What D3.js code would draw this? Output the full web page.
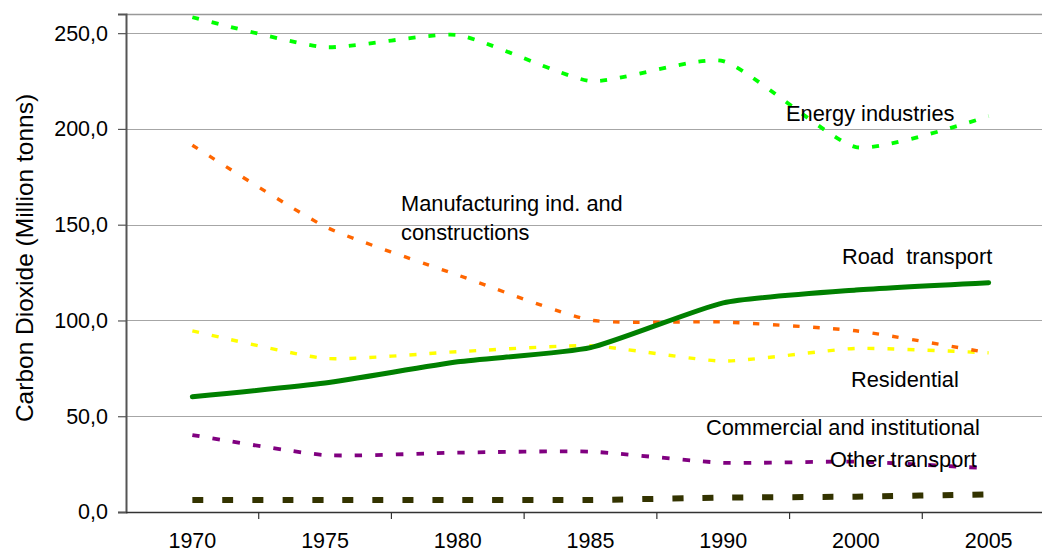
<!DOCTYPE html>
<html>
<head>
<meta charset="utf-8">
<script src="https://cdn.jsdelivr.net/npm/d3@7"></script>
<style>
  html, body { margin: 0; padding: 0; background: #fff; }
  svg { display: block; font-family: "Liberation Sans", Arial, sans-serif; }
</style>
</head>
<body>
<svg id="chart" width="1042" height="552"></svg>
<script>
// ---- Data ----
const years = ["1970", "1975", "1980", "1985", "1990", "2000", "2005"];
const energyIndustries = [258.3, 242.7, 249.0, 225.0, 235.4, 190.5, 206.7];
const manufacturing   = [191.5, 149.0, 123.7, 100.2, 99.2, 94.6, 83.1];
const roadTransport   = [60.2, 67.3, 78.4, 85.8, 109.2, 115.9, 119.7];
const residential     = [94.6, 80.2, 83.7, 86.8, 78.8, 85.4, 83.1];
const commercial      = [40.2, 29.7, 31.0, 31.5, 25.7, 26.3, 22.8];
const otherTransport  = [6.3, 6.3, 6.3, 6.3, 7.5, 8.0, 9.2];
const yTicks = [0, 50, 100, 150, 200, 250];

const series = [
  { name: "Other transport", values: otherTransport, color: "#333300", width: 6, dash: "11,19" },
  { name: "Commercial and institutional", values: commercial, color: "#800080", width: 3.8, dash: "7.5,13" },
  { name: "Residential", values: residential, color: "#FFFF00", width: 3.4, dash: "7,13" },
  { name: "Manufacturing ind. and constructions", values: manufacturing, color: "#FF6600", width: 3.4, dash: "6.5,13.5" },
  { name: "Energy industries", values: energyIndustries, color: "#00FF00", width: 3.8, dash: "7,13" },
  { name: "Road transport", values: roadTransport, color: "#008000", width: 5, dash: null }
];

const labels = [
  { lines: ["Energy industries"], x: 786, y: 121 },
  { lines: ["Manufacturing ind. and", "constructions"], x: 401, y: 211 },
  { lines: ["Road\u00A0\u00A0transport"], x: 842, y: 264 },
  { lines: ["Residential"], x: 851, y: 387 },
  { lines: ["Commercial and institutional"], x: 706, y: 435 },
  { lines: ["Other transport"], x: 830, y: 467 }
];

// ---- Layout ----
const svg = d3.select("#chart");
const mLeft = 126, mRight = 1055, mTop = 14, mBottom = 512;

const x = d3.scaleBand().domain(years).range([mLeft, mRight]).paddingInner(0).paddingOuter(0);
const y = d3.scaleLinear().domain([0, 260]).range([mBottom, mTop]);
const cx = d => x(d) + x.bandwidth() / 2;

// top border
svg.append("line").attr("x1", mLeft).attr("x2", 1042).attr("y1", mTop + 0.5).attr("y2", mTop + 0.5)
  .attr("stroke", "#999").attr("stroke-width", 1.6);

// gridlines
svg.append("g").selectAll("line").data(yTicks.filter(t => t > 0)).join("line")
  .attr("x1", mLeft).attr("x2", 1042)
  .attr("y1", d => Math.round(y(d)) + 0.5).attr("y2", d => Math.round(y(d)) + 0.5)
  .attr("stroke", "#a6a6a6").attr("stroke-width", 1);

// y axis
const yAxis = d3.axisLeft(y).tickValues(yTicks).tickSize(8).tickPadding(10)
  .tickFormat(d => d3.format(".1f")(d).replace(".", ","));
const gy = svg.append("g").attr("transform", `translate(${mLeft},0)`).call(yAxis);
gy.select(".domain").attr("stroke", "#555").attr("stroke-width", 2);
gy.selectAll(".tick line").attr("stroke", "#555").attr("stroke-width", 1.2);
gy.selectAll(".tick text").attr("font-size", "21.5px").attr("fill", "#000")
  .attr("font-family", "Liberation Sans, Arial, sans-serif");

// x axis: ticks between categories
const boundaries = years.map(d => x(d)).slice(1);
svg.append("line").attr("x1", mLeft).attr("x2", 1042).attr("y1", mBottom + 0.5).attr("y2", mBottom + 0.5)
  .attr("stroke", "#333").attr("stroke-width", 1.6);
svg.append("g").selectAll("line").data(boundaries).join("line")
  .attr("x1", d => d).attr("x2", d => d).attr("y1", mBottom).attr("y2", mBottom + 7)
  .attr("stroke", "#333").attr("stroke-width", 1.2);
svg.append("g").selectAll("text").data(years).join("text")
  .attr("x", d => cx(d)).attr("y", 548).attr("text-anchor", "middle")
  .attr("font-size", "21.5px").attr("fill", "#000").text(d => d);

// y axis title
svg.append("text")
  .attr("transform", `translate(33,258) rotate(-90)`)
  .attr("text-anchor", "middle").attr("font-size", "24.5px").attr("fill", "#000")
  .text("Carbon Dioxide (Million tonns)");

// lines
const line = d3.line().x((d, i) => cx(years[i])).y(d => y(d)).curve(d3.curveCardinal.tension(0.45));
svg.append("g").selectAll("path").data(series).join("path")
  .attr("d", d => line(d.values))
  .attr("fill", "none")
  .attr("stroke", d => d.color)
  .attr("stroke-width", d => d.width)
  .attr("stroke-dasharray", d => d.dash)
  .attr("stroke-linecap", d => d.dash ? "butt" : "round")
  .attr("stroke-linejoin", "round");

// labels
const lg = svg.append("g");
labels.forEach(l => {
  const t = lg.append("text").attr("x", l.x).attr("y", l.y).attr("font-size", "21.8px").attr("fill", "#000");
  l.lines.forEach((s, i) => t.append("tspan").attr("x", l.x).attr("dy", i === 0 ? 0 : 28.5).text(s));
});
</script>
</body>
</html>
